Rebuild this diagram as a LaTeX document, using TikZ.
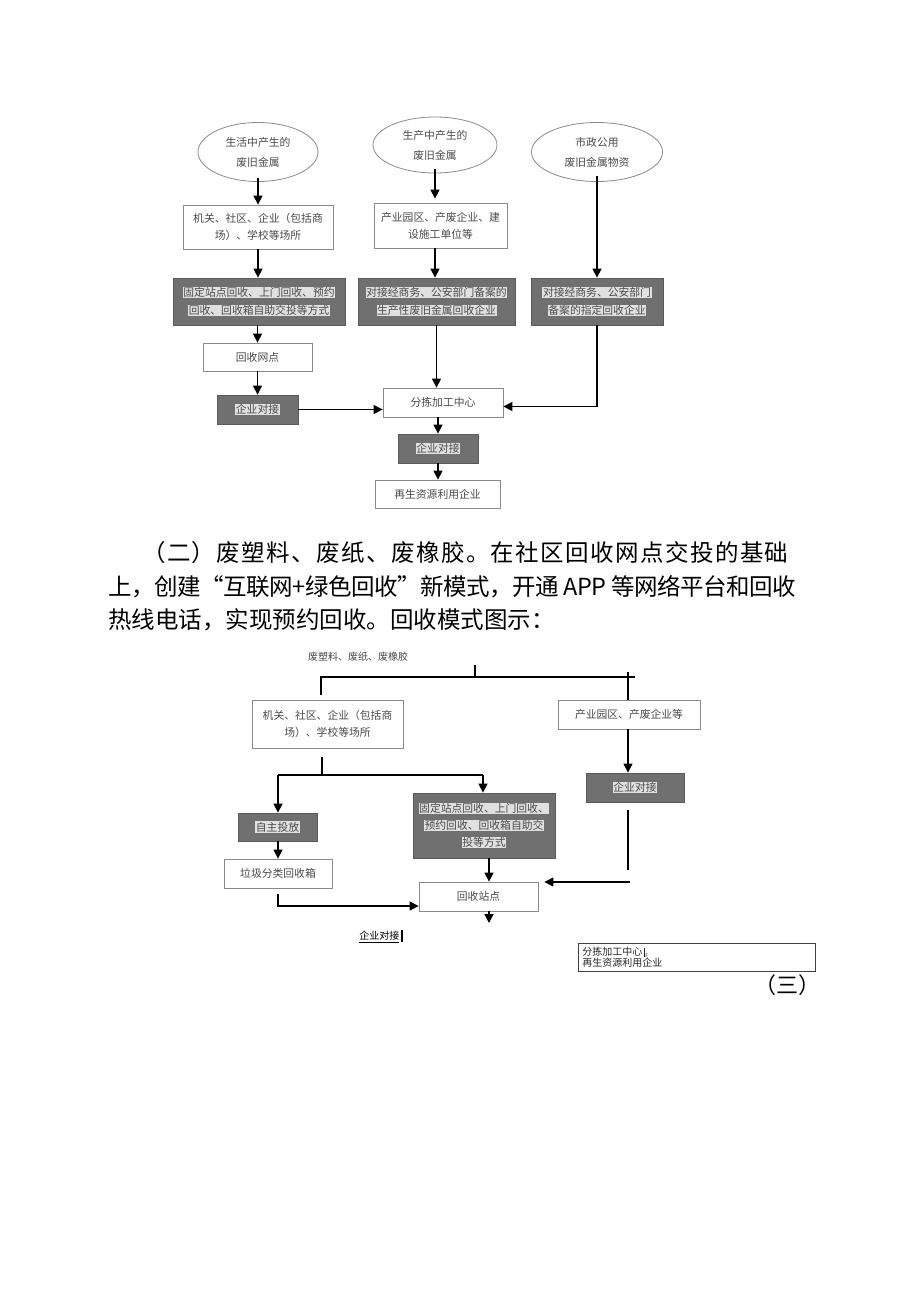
\documentclass[tikz,border=0pt]{standalone}
\usepackage{fontspec}
\setmainfont{Noto Sans CJK SC}
\usetikzlibrary{arrows.meta,shapes.geometric}
\definecolor{dk}{HTML}{707070}
\definecolor{hlc}{HTML}{E0E0E0}
\definecolor{bd}{HTML}{8A8A8A}
\definecolor{tx}{HTML}{4A4A4A}
\newcommand{\hlt}[1]{{\setlength{\fboxsep}{0.6pt}\colorbox{hlc}{#1}}}
\tikzset{
  box/.style={draw=bd, line width=0.8pt, fill=white, inner sep=0pt, text=tx,
    font=\fontsize{10.8}{17}\selectfont, align=center},
  dbox/.style={draw=dk!80!black, line width=0.8pt, fill=dk, inner sep=0pt, text=tx,
    font=\fontsize{10.8}{18}\selectfont, align=center},
  ell/.style={ellipse, draw=bd, line width=0.8pt, fill=white, inner sep=0pt, text=tx,
    font=\fontsize{10.8}{20}\selectfont, align=center},
  arr/.style={-{Triangle[length=9pt,width=9pt]}, line width=1.3pt, black},
  ln/.style={line width=1.3pt, black},
  para/.style={anchor=west, inner sep=0pt, font=\fontsize{23.5}{28}\selectfont},
}
\begin{document}
\begin{tikzpicture}[x=1pt,y=-1pt]
\fill[white] (0,0) rectangle (920,1301);
\useasboundingbox (0,0) rectangle (920,1301);

% ---------- top diagram ----------
\node[ell, minimum width=120pt, minimum height=59pt] (e1) at (258,152) {生活中产生的\\废旧金属};
\node[ell, minimum width=124pt, minimum height=56pt] (e2) at (435,145) {生产中产生的\\废旧金属};
\node[ell, minimum width=131pt, minimum height=59pt] (e3) at (597,152) {市政公用\\废旧金属物资};

\node[box, minimum width=150pt, minimum height=44pt] (b1) at (258,227) {机关、社区、企业（包括商\\场）、学校等场所};
\node[box, minimum width=133pt, minimum height=45pt] (b2) at (440.5,225.5) {产业园区、产废企业、建\\设施工单位等};

\node[dbox, minimum width=172pt, minimum height=47pt] (da) at (259,301.5) {\hlt{固定站点回收、上门回收、预约}\\\hlt{回收、回收箱自助交投等方式}};
\node[dbox, minimum width=157pt, minimum height=47pt] (db) at (436.5,301.5) {\hlt{对接经商务、公安部门备案的}\\\hlt{生产性废旧金属回收企业}};
\node[dbox, minimum width=132pt, minimum height=47pt] (d3) at (597,301.5) {\hlt{对接经商务、公安部门}\\\hlt{备案的指定回收企业}};

\node[box, minimum width=109pt, minimum height=28pt] (w1) at (257.5,357) {回收网点};
\node[dbox, minimum width=81pt, minimum height=29pt] (q1) at (257.5,409.5) {\hlt{企业对接}};
\node[box, minimum width=120pt, minimum height=29pt] (f1) at (443,402.5) {分拣加工中心};
\node[dbox, minimum width=80pt, minimum height=29pt] (q2) at (438,448.5) {\hlt{企业对接}};
\node[box, minimum width=125pt, minimum height=28pt] (r1) at (437.5,494) {再生资源利用企业};

\draw[arr] ([yshift=4pt]e1.south) -- (b1.north);
\draw[arr] ([yshift=4pt]e2.south) -- ([yshift=4pt]e2.south |- b2.north);
\draw[arr] ([yshift=6pt]e3.south) -- (d3.north);
\draw[arr] (b1.south) -- (b1.south |- da.north);
\draw[arr] (db.north -| e2.south) ++(0,-30) -- (db.north -| e2.south);
\draw[arr] (da.south -| w1.north) -- (w1.north);
\draw[arr] (w1.south) -- (q1.north);
\draw[arr] (q1.east) -- (q1.east -| f1.west);
\draw[arr] (db.south) -- (db.south |- f1.north);
\draw[arr] (d3.south) |- ([yshift=-4pt]f1.east);
\draw[arr] (q2.north |- f1.south) -- (q2.north);
\draw[arr] (q2.south) -- (q2.south |- r1.north);

% ---------- paragraph ----------
\node[para] (p1) at (142,553) {\addfontfeature{LetterSpace=6}（二）废塑料、废纸、废橡胶。在社区回收网点交投的基础};
\node[para] (p2) at (108,587) {\addfontfeature{LetterSpace=-2}上，创建“互联网+绿色回收”新模式，开通 APP 等网络平台和回收};
\node[para] (p3) at (108,620) {热线电话，实现预约回收。回收模式图示：};

% ---------- bottom diagram ----------
\node[inner sep=0pt, text=tx, font=\fontsize{10}{12}\selectfont] (t0) at (358,657) {废塑料、废纸、废橡胶};
\coordinate (c0) at (475,665);
\coordinate (c1) at (475,677);
\coordinate (cl) at (321,677);
\coordinate (cr) at (635,677);
\coordinate (cl2) at (321,695);
\coordinate (cr0) at (628,672);

\node[box, minimum width=151pt, minimum height=48pt] (lb) at (327.5,724) {机关、社区、企业（包括商\\场）、学校等场所};
\node[box, minimum width=142pt, minimum height=29pt] (rb) at (629,714.5) {产业园区、产废企业等};

\draw[ln] (c0) -- (c1);
\draw[ln] (cl2) -- (cl) -- (cr);
\draw[ln] (cr0) -- (cr0 |- rb.north);

\node[dbox, minimum width=98pt, minimum height=29pt] (q3) at (635,787.5) {\hlt{企业对接}};
\node[dbox, minimum width=79pt, minimum height=28pt] (zt) at (277.5,827) {\hlt{自主投放}};
\node[dbox, minimum width=142pt, minimum height=65pt, font=\fontsize{10.8}{17}\selectfont] (gd) at (484,825.5) {\hlt{固定站点回收、上门回收、}\\\hlt{预约回收、回收箱自助交}\\\hlt{投等方式}};
\node[box, minimum width=108pt, minimum height=29pt] (lj) at (278,873.5) {垃圾分类回收箱};
\node[box, minimum width=119pt, minimum height=29pt] (hs) at (478.5,896.5) {回收站点};

\draw[arr] (rb.south -| cr0) -- (q3.north -| cr0);
\coordinate (s0) at (322,757);
\coordinate (s1) at (322,775);
\coordinate (sl) at (278,775);
\coordinate (sr) at (483,775);
\draw[ln] (s0) -- (s1);
\draw[ln] (sl) -- (sr);
\draw[arr] (sl) -- (sl |- zt.north);
\draw[arr] (sr) -- (gd.north -| sr);
\draw[arr] (zt.south -| sl) -- (lj.north -| sl);
\draw[arr] ([yshift=-6pt]lj.south) |- ([yshift=-9.5pt]hs.west);
\draw[arr] ([xshift=5pt]gd.south) -- ([xshift=5pt]gd.south |- hs.north);
\coordinate (h1) at (489,923);
\draw[arr] (hs.south -| h1) -- (h1);
\coordinate (v0) at (628,810);
\coordinate (v1) at (628,870);
\draw[ln] (v0) -- (v1);
\coordinate (g0) at (630,882);
\draw[arr] (g0) -- ([xshift=6pt]hs.east |- g0);

\node[inner sep=0pt, text=black, font=\fontsize{10}{12}\selectfont] (qj) at (381,936) {\underline{企业对接}\,\rule[-2pt]{1.8pt}{12pt}};

\node[draw=black!75, line width=0.8pt, anchor=north west, minimum width=237pt, minimum height=28pt,
  text width=229pt, inner xsep=4pt, inner ysep=2pt, align=left, text=black!85,
  font=\fontsize{10}{11.5}\selectfont] (fb) at (578,943)
  {分拣加工中心\,\rule[-1.5pt]{1.2pt}{9pt}\raisebox{-2pt}{\fontsize{5}{5}\selectfont F}\\再生资源利用企业};

\node[inner sep=0pt, font=\fontsize{22}{26}\selectfont] (san) at (787,985) {（三）};
\end{tikzpicture}
\end{document}
